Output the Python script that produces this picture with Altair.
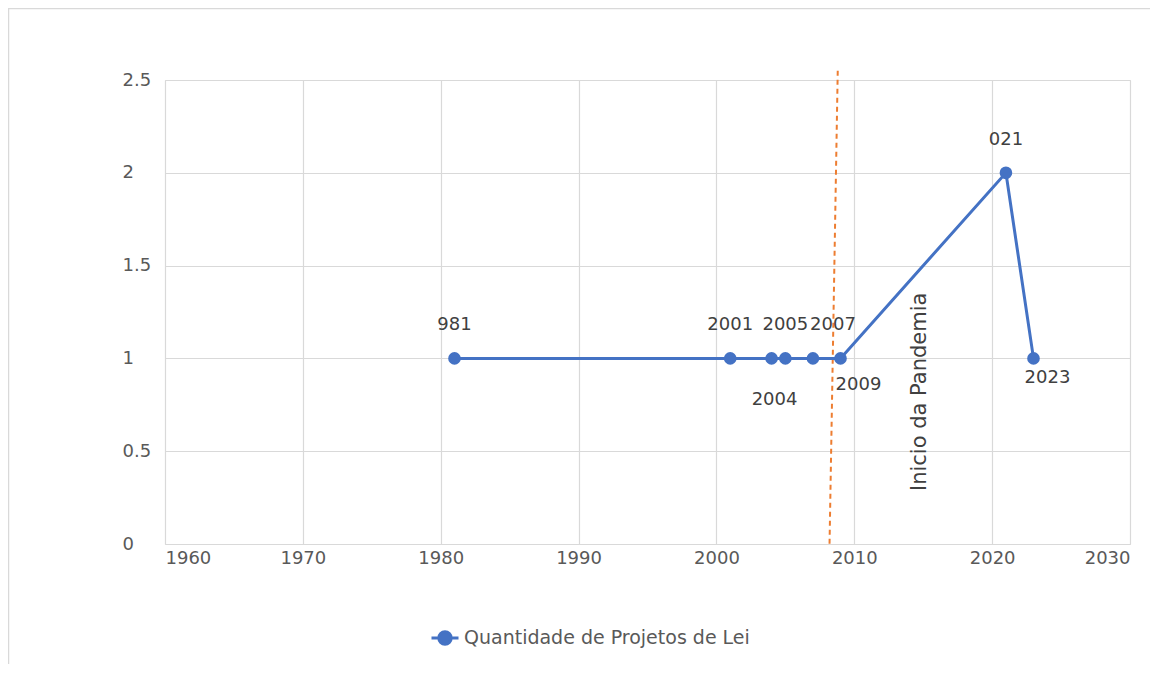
import altair as alt
import pandas as pd

years = [1981, 2001, 2004, 2005, 2007, 2009, 2021, 2023]
counts = [1, 1, 1, 1, 1, 1, 2, 1]
point_labels = ["981", "2001", "2004", "2005", "2007", "2009", "021", "2023"]
series_name = "Quantidade de Projetos de Lei"

pandemic_years = [2008.8, 2008.2]
pandemic_levels = [2.55, -0.02]
pandemic_text = "Inicio da Pandemia"
pandemic_text_year = 2014.75
pandemic_text_level = 0.82

x_ticks = [1960, 1970, 1980, 1990, 2000, 2010, 2020, 2030]
y_ticks = [0, 0.5, 1, 1.5, 2, 2.5]

FONT = "DejaVu Sans"
FS = 18
W, H = 965, 464
PAD_L, PAD_T = 157, 72

df = pd.DataFrame({"ano": years, "qtd": counts, "rotulo": point_labels,
                   "serie": [series_name] * len(years)})

x_scale = alt.Scale(domain=[1960, 2030], nice=False, zero=False)
y_scale = alt.Scale(domain=[0, 2.5], nice=False)

x_axis = alt.Axis(values=x_ticks, format="d", title=None, domain=False, ticks=False,
                  tickSize=0, labelPadding=5, gridColor="#d9d9d9", gridWidth=1.2,
                  labelFont=FONT, labelFontSize=FS, labelColor="#595959")
y_axis = alt.Axis(values=y_ticks, format=".1~f", title=None, domain=False, ticks=False, tickSize=0,
                  labelAlign="left", labelPadding=43, gridColor="#d9d9d9", gridWidth=1.2,
                  labelFont=FONT, labelFontSize=FS, labelColor="#595959")

base = alt.Chart(df)

line = base.mark_line(strokeWidth=3, point=alt.OverlayMarkDef(size=160, filled=True, opacity=1)).encode(
    x=alt.X("ano:Q", scale=x_scale, axis=x_axis),
    y=alt.Y("qtd:Q", scale=y_scale, axis=y_axis),
    color=alt.Color("serie:N", scale=alt.Scale(range=["#4472C4"]),
                    legend=alt.Legend(title=None, orient="none", legendX=265, legendY=543,
                                      symbolType="M-1,0L1,0M-0.46,0A0.46,0.46 0 1,1 0.46,0A0.46,0.46 0 1,1 -0.46,0",
                                      symbolSize=729, symbolStrokeWidth=3,
                                      symbolFillColor="#4472C4", symbolStrokeColor="#4472C4",
                                      labelFont=FONT, labelFontSize=19, labelColor="#595959",
                                      labelLimit=0, labelOffset=4)),
)

label_style = dict(font=FONT, fontSize=FS, color="#404040")
offsets = {
    "981": (0, -33), "2001": (0, -33), "2005": (0, -33), "021": (0, -33),
    "2007": (20, -33), "2004": (3, 42), "2009": (18, 27), "2023": (14, 20),
}
label_layers = []
for lab, (dx, dy) in offsets.items():
    label_layers.append(
        base.transform_filter(alt.datum.rotulo == lab).mark_text(dx=dx, dy=dy, **label_style).encode(
            x=alt.X("ano:Q", scale=x_scale), y=alt.Y("qtd:Q", scale=y_scale), text="rotulo:N")
    )

pdf = pd.DataFrame({"x1": [pandemic_years[0]], "x2": [pandemic_years[1]],
                    "y1": [pandemic_levels[0]], "y2": [pandemic_levels[1]]})
pandemic = alt.Chart(pdf).mark_rule(color="#ED7D31", strokeWidth=2, strokeDash=[5, 4]).encode(
    x=alt.X("x1:Q", scale=x_scale), x2="x2:Q",
    y=alt.Y("y1:Q", scale=y_scale), y2="y2:Q")

tdf = pd.DataFrame({"x": [pandemic_text_year], "y": [pandemic_text_level], "t": [pandemic_text]})
ptext = alt.Chart(tdf).mark_text(angle=270, font=FONT, fontSize=21, color="#404040").encode(
    x=alt.X("x:Q", scale=x_scale), y=alt.Y("y:Q", scale=y_scale), text="t:N")

border = alt.Chart(pd.DataFrame({"b": [0]})).mark_rect(fill=None, stroke="#d9d9d9", strokeWidth=1.5).encode(
    x=alt.value(-PAD_L + 0.5), x2=alt.value(W + 40), y=alt.value(-PAD_T + 0.5), y2=alt.value(H + 200))

chart = alt.layer(border, pandemic, line, *label_layers, ptext).properties(
    width=W, height=H,
    autosize=alt.AutoSizeParams(type="none"),
    padding={"left": PAD_L, "top": PAD_T, "right": 20, "bottom": 120},
).configure_view(stroke=None).configure(background="white")

chart.save("out.html", embed_options={"renderer": "svg", "actions": False})
